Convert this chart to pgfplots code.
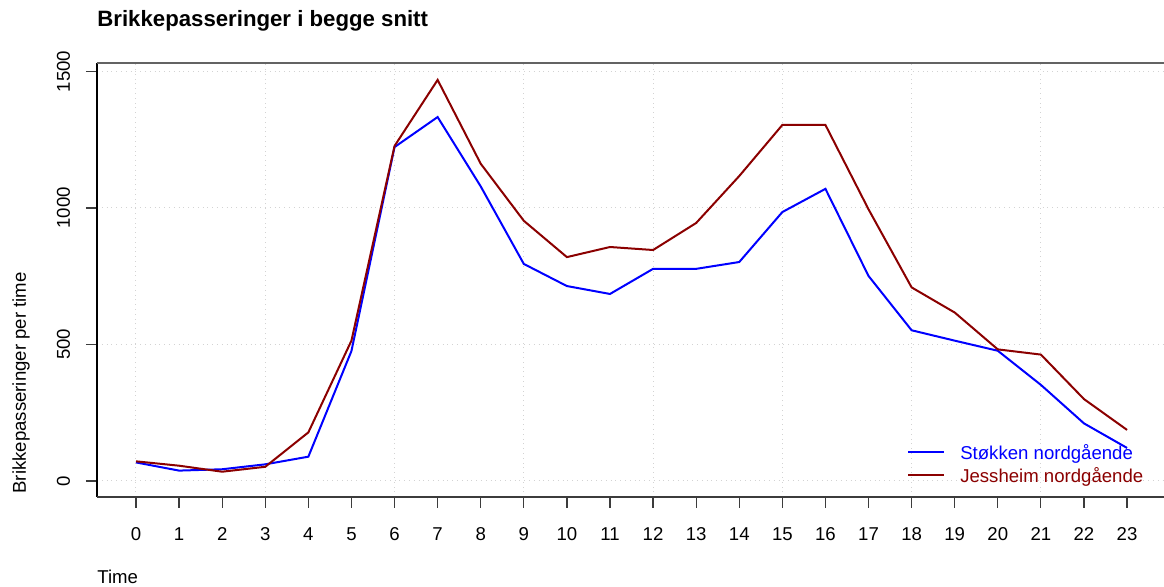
\documentclass[border=0pt]{standalone}
\usepackage{pgfplots}
\pgfplotsset{compat=1.18}
\usepackage{fontspec}
\setmainfont{Liberation Sans}
\definecolor{rblue}{RGB}{0,0,255}
\definecolor{rred}{RGB}{139,0,0}
\definecolor{gridc}{RGB}{211,211,211}
\definecolor{boxc}{RGB}{60,60,60}
\begin{document}
\fontsize{9.3}{11}\selectfont
\begin{tikzpicture}
\begin{axis}[
  at={(48.5pt,45pt)}, anchor=south west,
  width=533.5pt, height=217pt, scale only axis,
  xmin=-0.905, xmax=23.857,
  ymin=-58.6, ymax=1531,
  axis line style={draw=none},
  xtick={0,...,23}, ytick={0,500,1000,1500},
  yticklabels={0,500,1000,1500},
  xtick pos=bottom, ytick pos=left,
  tick align=outside,
  major tick length=5.5pt,
  tick style={boxc, line width=0.6pt},
  /pgf/number format/assume math mode=true,
  ticklabel style={font=\fontsize{9.3}{11}\selectfont},
  xticklabel style={anchor=base, yshift=-16.5pt},
  yticklabel style={rotate=90, anchor=base, yshift=8pt},
  xmajorgrids=false,
  ymajorgrids,
  grid style={gridc, dotted, line width=0.5pt},
  extra x ticks={0,3,6,9,12,15,18,21},
  extra x tick labels={},
  extra x tick style={xmajorgrids=true, major tick length=0pt},
  clip=false,
  legend style={draw=none, fill=none, at={(axis cs:17.89,131)}, anchor=north west,
    inner xsep=0pt, inner ysep=0pt, row sep=2.5pt,
    nodes={inner sep=0pt, text height=7pt, text depth=2pt, anchor=base west},
    font=\fontsize{9.3}{11}\selectfont},
  legend cell align=left,
  legend image code/.code={\draw[#1] (0pt,3.8pt) -- (18pt,3.8pt);},
  /tikz/every odd column/.append style={column sep=7.5pt},
]
\draw[black, line width=0.6pt] (rel axis cs:0,0) -- (rel axis cs:0,1);
\draw[boxc, line width=0.75pt] (rel axis cs:0,0) -- (rel axis cs:1,0);
\draw[boxc!80, line width=0.75pt] (rel axis cs:0,1) -- (rel axis cs:1,1);
\addplot[rblue, line width=1pt] coordinates {
(0,68) (1,38) (2,43) (3,61) (4,89) (5,476) (6,1223) (7,1333) (8,1079) (9,795)
(10,714) (11,685) (12,777) (13,777) (14,802) (15,985) (16,1070) (17,751)
(18,552) (19,514) (20,477) (21,352) (22,211) (23,121)};
\addlegendentry{\textcolor{rblue}{Støkken nordgående}}
\addplot[rred, line width=1pt] coordinates {
(0,72) (1,56) (2,34) (3,52) (4,178) (5,514) (6,1227) (7,1469) (8,1162) (9,953)
(10,820) (11,857) (12,846) (13,945) (14,1117) (15,1304) (16,1304) (17,995)
(18,709) (19,617) (20,482) (21,463) (22,300) (23,187)};
\addlegendentry{\textcolor{rred}{Jessheim nordgående}}
\end{axis}
\node[anchor=base west, inner sep=0pt, font=\bfseries\fontsize{11.1}{13}\selectfont] at (48.5pt,280pt) {Brikkepasseringer i begge snitt};
\node[anchor=base west, inner sep=0pt] at (48.5pt,1.5pt) {Time};
\node[anchor=base, rotate=90, inner sep=0pt] at (13pt,102pt) {Brikkepasseringer per time};
\pgfresetboundingbox
\useasboundingbox (0,0) rectangle (582pt,293.5pt);
\end{tikzpicture}
\end{document}
